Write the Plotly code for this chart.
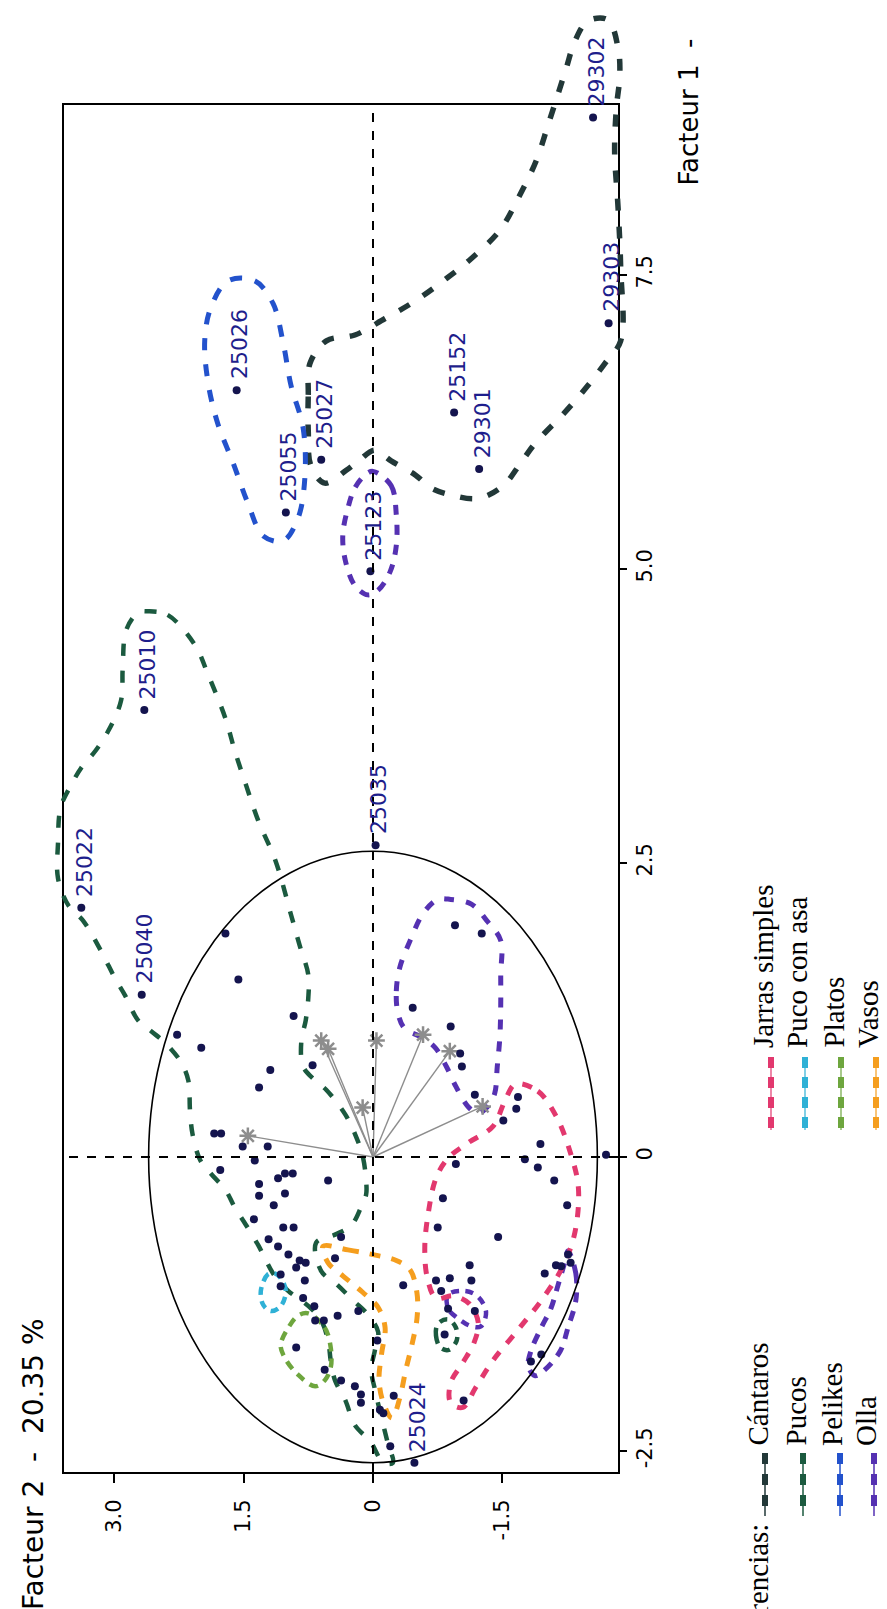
import plotly.graph_objects as go

# ---------------- data (Facteur 2 = F2, Facteur 1 = F1) ----------------
f2_tickvals = [3.0, 1.5, 0.0, -1.5]
f2_ticktext = ["3.0", "1.5", "0", "-1.5"]
f1_tickvals = [-2.5, 0.0, 2.5, 5.0, 7.5]
f1_ticktext = ["-2.5", "0", "2.5", "5.0", "7.5"]

label_ids = ["25026", "29302", "29303", "25152", "29301", "25027", "25055",
             "25123", "25035", "25010", "25022", "25040", "25024"]
label_f2 = [1.58, -2.55, -2.73, -0.94, -1.23, 0.60, 1.01, 0.03, -0.03, 2.65, 3.38, 2.68, -0.48]
label_f1 = [6.52, 8.84, 7.09, 6.33, 5.85, 5.93, 5.48, 4.98, 2.65, 3.80, 2.12, 1.38, -2.60]

other_f2 = [1.71, 1.56, 0.92, 2.27, 1.99, 0.70, 1.19, 1.32, 1.84, 1.76, 1.51, 1.22, 1.37, 1.77,
            1.10, 1.02, 0.93, 0.52, 1.32, 1.32, 1.02, 1.15, 1.38, 1.04, 0.92, 1.21, 1.10, 0.37,
            0.98, 0.85, 0.78, 0.44, 1.07, 0.89, 0.79, 1.07, 0.81, 0.68, 0.67, 0.41, 0.17, 0.57,
            -0.05, 0.89, 0.56, 0.37, 0.21, 0.14, 0.14, -0.08, -0.12, -0.24, -0.20,
            -0.95, -1.26, -0.46, -0.90, -1.01, -1.03, -1.18, -1.68, -1.66, -1.51, -1.94, -0.96,
            -1.76, -1.91, -2.10, -2.70, -0.81, -2.25, -0.75, -1.45, -1.12, -0.73, -0.89, -1.14,
            -0.35, -0.79, -0.87, -1.18, -1.99, -2.12, -2.18, -2.26, -2.29, -0.83, -1.95, -1.83,
            -1.05]
other_f1 = [1.90, 1.51, 1.20, 1.04, 0.93, 0.78, 0.74, 0.59, 0.20, 0.20, 0.09, 0.09, -0.03, -0.11,
            -0.18, -0.14, -0.14, -0.20, -0.23, -0.33, -0.31, -0.41, -0.53, -0.60, -0.60, -0.70,
            -0.76, -0.68, -0.83, -0.88, -0.90, -0.86, -1.00, -0.94, -1.05, -1.10, -1.20, -1.27,
            -1.39, -1.35, -1.31, -1.39, -1.56, -1.62, -1.81, -1.90, -1.95, -2.02, -2.09, -2.15,
            -2.18, -2.03, -2.46,
            1.97, 1.90, 1.27, 1.11, 0.88, 0.77, 0.53, 0.51, 0.41, 0.31, 0.11, -0.06,
            -0.02, -0.09, -0.20, 0.02, -0.35, -0.41, -0.60, -0.68, -0.92, -1.05, -1.03, -1.05,
            -1.09, -1.14, -1.29, -1.31, -0.99, -0.92, -0.93, -0.83, -0.90, -1.51, -1.68, -1.74,
            -2.07]

arrow_f2 = [1.45, 0.60, 0.52, 0.12, -0.04, -0.58, -0.89, -1.27]
arrow_f1 = [0.18, 0.99, 0.92, 0.42, 0.99, 1.04, 0.90, 0.43]

circle_radius = 2.6

cantaros = [(0.75, 6.17), (0.75, 6.48), (0.73, 6.75), (0.54, 6.94), (0.21, 6.99), (-0.14, 7.13),
            (-0.49, 7.28), (-0.85, 7.47), (-1.14, 7.64), (-1.47, 7.88), (-1.68, 8.15), (-1.89, 8.47),
            (-2.03, 8.78), (-2.14, 9.03), (-2.24, 9.26), (-2.34, 9.49), (-2.49, 9.66), (-2.72, 9.67),
            (-2.84, 9.43), (-2.86, 9.20), (-2.82, 8.92), (-2.80, 8.55), (-2.84, 8.07), (-2.87, 7.56),
            (-2.87, 6.94), (-2.69, 6.75), (-2.49, 6.56), (-2.22, 6.33), (-1.88, 6.07), (-1.71, 5.90),
            (-1.51, 5.71), (-1.22, 5.60), (-0.90, 5.63), (-0.67, 5.69), (-0.49, 5.80), (-0.21, 5.92),
            (-0.02, 6.01), (0.15, 5.93), (0.31, 5.84), (0.56, 5.73), (0.72, 5.88), (0.75, 6.17)]

pelikes = [(1.68, 7.45), (1.37, 7.45), (1.16, 7.26), (1.04, 6.92), (0.95, 6.56), (0.81, 6.20),
           (0.79, 5.77), (0.87, 5.43), (1.04, 5.24), (1.27, 5.28), (1.45, 5.56), (1.62, 5.90),
           (1.80, 6.24), (1.91, 6.58), (1.95, 6.94), (1.88, 7.22), (1.68, 7.45)]

olla_a = [(0.00, 5.83), (-0.21, 5.71), (-0.27, 5.46), (-0.27, 5.20), (-0.20, 4.98), (-0.06, 4.82),
          (0.06, 4.78), (0.21, 4.86), (0.32, 5.07), (0.35, 5.29), (0.29, 5.52), (0.21, 5.69),
          (0.09, 5.80), (0.00, 5.83)]
olla_b = [(-0.29, 1.22), (-0.27, 1.41), (-0.31, 1.61), (-0.43, 1.84), (-0.58, 2.07), (-0.75, 2.19),
          (-0.90, 2.19), (-1.14, 2.15), (-1.33, 2.00), (-1.48, 1.84), (-1.48, 1.55), (-1.48, 1.28),
          (-1.47, 1.02), (-1.44, 0.77), (-1.41, 0.54), (-1.33, 0.43), (-1.22, 0.37), (-1.10, 0.43),
          (-0.96, 0.60), (-0.85, 0.77), (-0.72, 0.93), (-0.56, 1.02), (-0.37, 1.09), (-0.29, 1.22)]
olla_c = [(-0.87, -1.17), (-1.07, -1.14), (-1.22, -1.19), (-1.31, -1.32), (-1.25, -1.44),
          (-1.14, -1.44), (-0.98, -1.37), (-0.87, -1.29), (-0.87, -1.17)]
olla_d = [(-2.26, -0.80), (-2.35, -0.99), (-2.35, -1.22), (-2.26, -1.45), (-2.17, -1.65),
          (-1.99, -1.81), (-1.88, -1.86), (-1.80, -1.78), (-1.83, -1.65), (-1.95, -1.45),
          (-2.06, -1.29), (-2.14, -1.10), (-2.22, -0.90), (-2.26, -0.80)]

jarras = [(-1.65, 0.62), (-1.91, 0.56), (-2.12, 0.35), (-2.29, 0.03), (-2.38, -0.26), (-2.34, -0.64),
          (-2.20, -0.93), (-1.97, -1.20), (-1.68, -1.47), (-1.39, -1.73), (-1.19, -1.96), (-1.04, -2.13),
          (-0.90, -2.09), (-0.90, -1.92), (-1.04, -1.75), (-1.17, -1.58), (-1.22, -1.41), (-1.12, -1.25),
          (-0.93, -1.18), (-0.73, -1.20), (-0.63, -1.03), (-0.60, -0.77), (-0.64, -0.48), (-0.73, -0.18),
          (-0.87, -0.01), (-1.10, 0.12), (-1.39, 0.26), (-1.53, 0.48), (-1.65, 0.62)]

vasos = [(0.58, -0.76), (0.29, -0.79), (0.00, -0.83), (-0.27, -0.88), (-0.43, -0.96), (-0.51, -1.16),
         (-0.51, -1.37), (-0.45, -1.60), (-0.38, -1.81), (-0.31, -2.05), (-0.22, -2.22), (-0.12, -2.09),
         (-0.07, -1.90), (-0.10, -1.67), (-0.14, -1.45), (-0.06, -1.28), (0.12, -1.15), (0.35, -1.01),
         (0.52, -0.90), (0.58, -0.76)]

pucos = [(2.61, 4.64), (2.38, 4.61), (2.06, 4.35), (1.91, 4.10), (1.71, 3.73), (1.60, 3.45),
         (1.47, 3.16), (1.33, 2.86), (1.13, 2.52), (0.95, 2.06), (0.85, 1.80), (0.75, 1.55),
         (0.75, 1.35), (0.78, 1.16), (0.83, 0.99), (0.81, 0.77), (0.67, 0.65), (0.54, 0.57),
         (0.32, 0.36), (0.20, 0.18), (0.12, 0.01), (0.08, -0.20), (0.08, -0.32), (0.14, -0.43),
         (0.25, -0.58), (0.44, -0.66), (0.66, -0.73), (0.60, -0.97), (0.41, -1.09), (0.23, -1.22),
         (0.06, -1.34), (-0.06, -1.49), (-0.02, -1.65), (0.02, -1.81), (-0.02, -1.97), (-0.06, -2.10),
         (-0.17, -2.43), (-0.23, -2.60), (-0.12, -2.60), (0.03, -2.42), (0.21, -2.28), (0.32, -2.07),
         (0.44, -1.90), (0.49, -1.73), (0.52, -1.56), (0.60, -1.39), (0.70, -1.30), (0.83, -1.22),
         (0.98, -1.14), (1.14, -1.01), (1.24, -0.88), (1.33, -0.75), (1.47, -0.58), (1.60, -0.43),
         (1.71, -0.28), (1.88, -0.14), (2.00, -0.03), (2.09, 0.19), (2.12, 0.39), (2.14, 0.65),
         (2.22, 0.80), (2.38, 0.95), (2.57, 1.07), (2.72, 1.16), (2.87, 1.37), (2.99, 1.52),
         (3.15, 1.75), (3.36, 2.01), (3.53, 2.14), (3.65, 2.37), (3.65, 2.67), (3.62, 2.97),
         (3.50, 3.16), (3.38, 3.31), (3.22, 3.45), (3.07, 3.62), (2.92, 3.88), (2.90, 4.16),
         (2.86, 4.48), (2.72, 4.63), (2.61, 4.64)]
pucos_small = [(-0.75, -1.42), (-0.73, -1.52), (-0.78, -1.62), (-0.88, -1.64), (-0.97, -1.56),
               (-0.96, -1.45), (-0.87, -1.38), (-0.75, -1.42)]

puco_con_asa = [(1.14, -0.99), (1.22, -1.00), (1.30, -1.14), (1.27, -1.26), (1.18, -1.31),
                (1.07, -1.27), (1.01, -1.14), (1.07, -1.03), (1.14, -0.99)]

platos = [(0.75, -1.33), (0.56, -1.45), (0.49, -1.62), (0.49, -1.79), (0.56, -1.90), (0.67, -1.95),
          (0.87, -1.85), (1.02, -1.71), (1.07, -1.60), (0.98, -1.45), (0.87, -1.35), (0.75, -1.33)]

legend_col1 = ["Cántaros", "Pucos", "Pelikes", "Olla"]
legend_col2 = ["Jarras simples", "Puco con asa", "Platos", "Vasos"]

# ---------------- styles / layout constants ----------------
W, H = 887, 1609
X0, SX = 365.0, 86.3     # pixel of F2 = 0, pixels per unit (F2 grows to the left)
Y0, SY = 1149.0, 117.6   # pixel of F1 = 0, pixels per unit (F1 grows upward)
FR_L, FR_R, FR_T, FR_B = 56, 610, 97, 1464

C_CANT = "#223838"
C_PUCOS = "#1b5a3f"
C_PEL = "#2352cc"
C_OLLA = "#5531b2"
C_JAR = "#e2386e"
C_ASA = "#2fb1d6"
C_PLAT = "#6ea63e"
C_VAS = "#f59e1e"
C_DOT = "#14144e"
C_LAB = "#1e1e8c"
C_ARROW = "#8d8d8d"


def f2_at(px):
    return (X0 - px) / SX


def f1_at(py):
    return (Y0 - py) / SY


fig = go.Figure()


def loop(pts, color, width=5, dash="12px,12px"):
    fig.add_trace(go.Scatter(
        x=[p[0] for p in pts], y=[p[1] for p in pts], xaxis="x2", yaxis="y2",
        mode="lines", line=dict(color=color, width=width, dash=dash, shape="spline", smoothing=1.0),
        hoverinfo="skip", showlegend=False))


loop(cantaros, C_CANT, 5.5, "12px,16px")
loop(pelikes, C_PEL, 5, "12px,14px")
loop(olla_a, C_OLLA, 5, "10px,10px")
loop(olla_b, C_OLLA, 5, "10px,12px")
loop(olla_c, C_OLLA, 4.5, "8px,7px")
loop(olla_d, C_OLLA, 5, "10px,9px")
loop(jarras, C_JAR, 5, "10px,11px")
loop(vasos, C_VAS, 5, "11px,11px")
loop(pucos, C_PUCOS, 4.5, "12px,15px")
loop(pucos_small, C_PUCOS, 4.5, "8px,7px")
loop(puco_con_asa, C_ASA, 4.5, "8px,6px")
loop(platos, C_PLAT, 4.5, "9px,7px")

# arrows of the variables
ax, ay = [], []
for a, b in zip(arrow_f2, arrow_f1):
    ax += [0, a, None]
    ay += [0, b, None]
fig.add_trace(go.Scatter(x=ax, y=ay, xaxis="x2", yaxis="y2", mode="lines",
                         line=dict(color=C_ARROW, width=1.4), hoverinfo="skip", showlegend=False))
fig.add_trace(go.Scatter(x=arrow_f2, y=arrow_f1, xaxis="x2", yaxis="y2", mode="markers",
                         marker=dict(symbol="asterisk-open", size=14, color=C_ARROW,
                                     line=dict(color=C_ARROW, width=2.5)),
                         hoverinfo="skip", showlegend=False))

# points
fig.add_trace(go.Scatter(x=other_f2 + label_f2, y=other_f1 + label_f1, xaxis="x2", yaxis="y2",
                         mode="markers", marker=dict(color=C_DOT, size=8),
                         hoverinfo="skip", showlegend=False))

# point labels
for t, a, b in zip(label_ids, label_f2, label_f1):
    fig.add_annotation(x=a, y=b, xref="x2", yref="y2", text=t, showarrow=False,
                       textangle=-90, xanchor="center", yanchor="bottom", yshift=9, xshift=3,
                       font=dict(family="DejaVu Sans", size=22, color=C_LAB))

# correlation circle
fig.add_shape(type="circle", xref="x2", yref="y2",
              x0=-circle_radius, x1=circle_radius, y0=-circle_radius, y1=circle_radius,
              line=dict(color="black", width=1.6))

# zero lines
f2_lo, f2_hi = f2_at(FR_R), f2_at(FR_L)
f1_lo, f1_hi = f1_at(FR_B), f1_at(FR_T)
fig.add_shape(type="line", xref="x", yref="y", x0=0, x1=0, y0=f1_lo, y1=f1_hi,
              line=dict(color="black", width=2, dash="9px,9px"))
fig.add_shape(type="line", xref="x", yref="y", x0=f2_lo, x1=f2_hi, y0=0, y1=0,
              line=dict(color="black", width=2, dash="9px,9px"))


def px(x):
    return x / W


def py(y):
    return 1 - y / H


# axis titles
fig.add_annotation(x=px(25), y=py(1604), xref="paper", yref="paper",
                   text="Facteur 2\u00a0\u00a0-\u00a0\u00a020.35\u00a0%", showarrow=False,
                   textangle=-90, xanchor="center", yanchor="bottom",
                   font=dict(family="DejaVu Sans", size=28, color="black"))
fig.add_annotation(x=px(680), y=py(180), xref="paper", yref="paper",
                   text="Facteur 1\u00a0\u00a0-", showarrow=False,
                   textangle=-90, xanchor="center", yanchor="bottom",
                   font=dict(family="DejaVu Sans", size=26, color="black"))

# legend
serif = dict(family="Liberation Serif", size=29, color="black")
col1_x = [757, 795, 832, 866]
col2_x = [763, 797, 833, 868]
col1_colors = [C_CANT, C_PUCOS, C_PEL, C_OLLA]
col2_colors = [C_JAR, C_ASA, C_PLAT, C_VAS]
TXT_DX = -8  # rotated text box centre sits right of the glyphs

fig.add_annotation(x=px(757 + TXT_DX), y=py(1514), xref="paper", yref="paper", text="Referencias:",
                   showarrow=False, textangle=-90, xanchor="center", yanchor="top", font=serif)
for name, x, c in zip(legend_col1, col1_x, col1_colors):
    fig.add_annotation(x=px(x + TXT_DX), y=py(1440), xref="paper", yref="paper", text=name,
                       showarrow=False, textangle=-90, xanchor="center", yanchor="bottom", font=serif)
    fig.add_shape(type="line", xref="paper", yref="paper", x0=px(x), x1=px(x), y0=py(1445), y1=py(1508),
                  line=dict(color=c, width=1.5))
    fig.add_shape(type="line", xref="paper", yref="paper", x0=px(x), x1=px(x), y0=py(1445), y1=py(1508),
                  line=dict(color=c, width=6, dash="11px,10px"))
for name, x, c in zip(legend_col2, col2_x, col2_colors):
    fig.add_annotation(x=px(x + TXT_DX), y=py(1042), xref="paper", yref="paper", text=name,
                       showarrow=False, textangle=-90, xanchor="center", yanchor="bottom", font=serif)
    fig.add_shape(type="line", xref="paper", yref="paper", x0=px(x), x1=px(x), y0=py(1049), y1=py(1122),
                  line=dict(color=c, width=1.2))
    fig.add_shape(type="line", xref="paper", yref="paper", x0=px(x), x1=px(x), y0=py(1049), y1=py(1122),
                  line=dict(color=c, width=6, dash="11px,9px"))

tickfont = dict(family="DejaVu Sans", size=21, color="black")
fig.update_layout(
    width=W, height=H, autosize=False,
    margin=dict(l=0, r=0, t=0, b=0, pad=0),
    paper_bgcolor="white", plot_bgcolor="rgba(0,0,0,0)",
    showlegend=False,
    xaxis=dict(domain=[px(FR_L), px(FR_R)], range=[f2_hi, f2_lo], anchor="y",
               tickvals=f2_tickvals, ticktext=f2_ticktext, tickangle=-90,
               ticks="outside", ticklen=9, tickwidth=2, tickcolor="black",
               showline=True, linecolor="black", linewidth=2, mirror=True,
               showgrid=False, zeroline=False, tickfont=tickfont, ticklabelstandoff=8),
    yaxis=dict(domain=[py(FR_B), py(FR_T)], range=[f1_lo, f1_hi], anchor="x", side="right",
               tickvals=f1_tickvals, ticktext=f1_ticktext, tickangle=-90,
               ticks="outside", ticklen=7, tickwidth=2, tickcolor="black",
               showline=True, linecolor="black", linewidth=2, mirror=True,
               showgrid=False, zeroline=False, tickfont=tickfont, ticklabelstandoff=0),
    xaxis2=dict(domain=[0, 1], range=[f2_at(0), f2_at(W)], anchor="y2", visible=False),
    yaxis2=dict(domain=[0, 1], range=[f1_at(H), f1_at(0)], anchor="x2", visible=False),
)

fig.write_html("out.html", config={"displayModeBar": False})
